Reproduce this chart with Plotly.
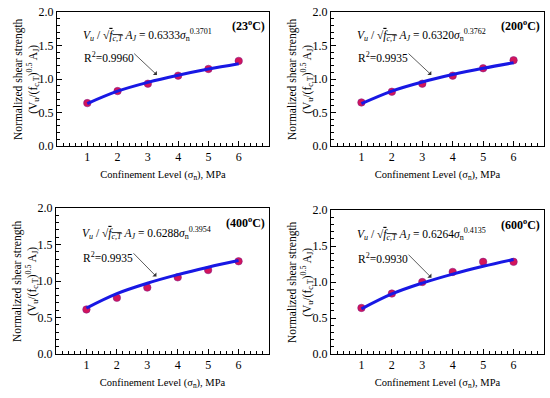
import plotly.graph_objects as go

confinement = [1, 2, 3, 4, 5, 6]

# measured normalized shear strength (dots)
pts_23 = [0.64, 0.82, 0.93, 1.05, 1.15, 1.27]
pts_200 = [0.65, 0.81, 0.93, 1.05, 1.16, 1.28]
pts_400 = [0.61, 0.77, 0.91, 1.05, 1.15, 1.27]
pts_600 = [0.64, 0.84, 1.00, 1.14, 1.28, 1.28]

# fitted curve values
fit_23 = [0.633, 0.818, 0.950, 1.056, 1.148, 1.229]
fit_200 = [0.632, 0.820, 0.956, 1.066, 1.160, 1.243]
fit_400 = [0.629, 0.827, 0.969, 1.087, 1.189, 1.280]
fit_600 = [0.626, 0.834, 0.985, 1.110, 1.218, 1.313]

temps = ["23", "200", "400", "600"]
coefs = ["0.6333", "0.6320", "0.6288", "0.6264"]
exps = ["0.3701", "0.3762", "0.3954", "0.4135"]
r2 = ["0.9960", "0.9935", "0.9935", "0.9930"]

x_ticks = [1, 2, 3, 4, 5, 6]
y_ticks = [0.0, 0.5, 1.0, 1.5, 2.0]
y_tick_text = ["0.0", "0.5", "1.0", "1.5", "2.0"]

W, H = 550, 398
# panel boxes in window pixels: (left, right, top, bottom)
boxes = [(57, 269, 12, 146), (331, 544, 12, 146), (56, 269, 208, 354), (331, 544, 210, 354)]


def px(x):
    return x / W


def py(y):
    return 1 - y / H


FONT = "Liberation Serif"
DOT = "#d3145a"
LINE = "#1818e4"

fig = go.Figure()
series = [(pts_23, fit_23), (pts_200, fit_200), (pts_400, fit_400), (pts_600, fit_600)]
layout = {}
annotations = []
for i, ((pts, fit), box) in enumerate(zip(series, boxes)):
    n = "" if i == 0 else str(i + 1)
    xa, ya = "x" + n, "y" + n
    fig.add_trace(go.Scatter(x=confinement, y=pts, mode="markers", xaxis=xa, yaxis=ya,
                             marker=dict(color=DOT, size=7.5, line=dict(color="#7a1a8a", width=0.5)),
                             showlegend=False, cliponaxis=False))
    fig.add_trace(go.Scatter(x=confinement, y=fit, mode="lines", xaxis=xa, yaxis=ya,
                             line=dict(color=LINE, width=3, shape="spline"),
                             showlegend=False))
    l, r, t, b = box
    axcommon = dict(showline=True, linecolor="black", linewidth=1, mirror=True, automargin=False,
                    ticks="inside", ticklen=5, tickcolor="black", showgrid=False, zeroline=False,
                    tickfont=dict(family=FONT, size=12, color="black"))
    layout["xaxis" + n] = dict(axcommon, domain=[px(l), px(r)], range=[0, 7], anchor=ya,
                               tickvals=x_ticks, ticktext=[str(v) for v in x_ticks],
                               minor=dict(ticks="inside", ticklen=3, dtick=0.2, tick0=0, tickcolor="black"),
                               title=dict(text="Confinement Level (σ<sub>n</sub>), MPa",
                                          font=dict(family=FONT, size=10.5, color="black"), standoff=7))
    layout["yaxis" + n] = dict(axcommon, domain=[py(b), py(t)], range=[0, 2], anchor=xa,
                               tickvals=y_ticks, ticktext=y_tick_text,
                               minor=dict(ticks="inside", ticklen=3, dtick=0.1, tick0=0, tickcolor="black"))
    annotations.append(dict(x=px(l - 31), y=py((t + b) / 2), xref="paper", yref="paper",
                            text="Normalized shear strength<br>(V<sub>u</sub>/(f<sub>c,T</sub>)<sup>0.5</sup> A<sub>J</sub>)",
                            textangle=-90, showarrow=False, xanchor="center", yanchor="middle",
                            font=dict(family=FONT, size=11.5, color="black")))
    eq = ("<i>V<sub>u</sub></i> / √<span style='text-decoration:overline'><i>f<sub>c,T</sub></i></span>"
          " <i>A<sub>J</sub></i> = " + coefs[i] + "<i>σ</i><sub>n</sub><sup>" + exps[i] + "</sup>")
    annotations.append(dict(x=0.8, y=1.66, xref=xa, yref=ya, text=eq, showarrow=False,
                            xanchor="left", yanchor="middle",
                            font=dict(family=FONT, size=11.5, color="black")))
    annotations.append(dict(x=0.82, y=1.33, xref=xa, yref=ya, text="R<sup>2</sup>=" + r2[i], showarrow=False,
                            xanchor="left", yanchor="middle",
                            font=dict(family=FONT, size=11.5, color="black")))
    annotations.append(dict(x=6.95, y=1.8, xref=xa, yref=ya,
                            text="<b>(" + temps[i] + "<sup>o</sup>C)</b>", showarrow=False,
                            xanchor="right", yanchor="middle",
                            font=dict(family=FONT, size=12, color="black")))
    annotations.append(dict(x=3.3, y=1.06, xref=xa, yref=ya, ax=2.5, ay=1.4, axref=xa, ayref=ya,
                            text="", showarrow=True, arrowhead=1, arrowsize=1.2, arrowwidth=0.8,
                            arrowcolor="#333333"))

fig.update_layout(width=W, height=H, margin=dict(l=0, r=0, t=0, b=0),
                  paper_bgcolor="white", plot_bgcolor="white",
                  annotations=annotations, **layout)
fig.write_html("out.html", config={"displayModeBar": False},
               post_script="document.body.style.margin='0';")
